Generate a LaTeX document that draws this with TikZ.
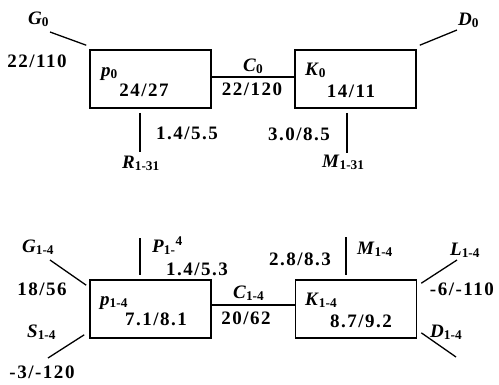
\documentclass[tikz,border=0pt]{standalone}
\usepackage{fontspec}
\setmainfont{Liberation Serif}
\newfontfamily\numfont{Liberation Serif}[LetterSpace=8]
\usepackage{tikz}
\usetikzlibrary{positioning}
\newcommand*{\sym}[2]{\textbf{\textit{#1}}\textsubscript{\textbf{#2}}}

\begin{document}
\begin{tikzpicture}[x=1pt,y=-1pt,
    block/.style = {draw, line width=1.6pt, minimum width=121pt,
                    minimum height=58pt, inner sep=0pt},
    wire/.style  = {line width=1.3pt},
    num/.style   = {anchor=base, inner sep=0pt,
                    font=\numfont\bfseries\fontsize{19}{22}\selectfont},
    lab/.style   = {anchor=base west, inner sep=0pt,
                    font=\fontsize{19}{22}\selectfont}]
    \useasboundingbox (0,0) rectangle (499,384);
    % top row
    \node[block] (p0) at (150.5,79) {};
    \node[block] (k0) at (355.5,79) {};
    \node[lab] (p0name) at (101,76) {\sym{p}{0}};
    \node[num] (p0val) at (144,96) {24/27};
    \node[lab] (k0name) at (305,75) {\sym{K}{0}};
    \node[num] (k0val) at (351,97) {14/11};
    \draw[wire] (p0.east |- 0,77) -- (k0.west |- 0,77);
    \node[lab] (c0name) at (243,71) {\sym{C}{0}};
    \node[num] (c0val) at (252,95) {22/120};
    % top inputs and outputs
    \coordinate (g0) at (50,32);
    \draw[wire] (g0) -- ([shift={(-3pt,4pt)}]p0.north west);
    \node[lab] (g0name) at (28,24) {\sym{G}{0}};
    \node[num] (g0val) at (37,67) {22/110};
    \coordinate (r0) at (140,152);
    \draw[wire] (r0 |- p0.south) ++(0,4) -- (r0);
    \node[num] (r0val) at (187,139) {1.4/5.5};
    \node[lab] (r0name) at (122,168) {\sym{R}{1-31}};
    \coordinate (d0) at (457,30);
    \draw[wire] (d0) -- ([shift={(3pt,4pt)}]k0.north east);
    \node[lab] (d0name) at (458,25) {\sym{D}{0}};
    \coordinate (m0) at (347,153);
    \draw[wire] (m0 |- k0.south) ++(0,4) -- (m0);
    \node[num] (m0val) at (299,140) {3.0/8.5};
    \node[lab] (m0name) at (322,167) {\sym{M}{1-31}};
    % bottom row
    \node[block] (p1) at (150.5,309) {};
    \node[block] (k1) at (356,309) {};
    \node[lab] (p1name) at (100,305) {\sym{p}{1-4}};
    \node[num] (p1val) at (156,325) {7.1/8.1};
    \node[lab] (k1name) at (305,305) {\sym{K}{1-4}};
    \node[num] (k1val) at (361,327) {8.7/9.2};
    \draw[wire] (p1.east |- 0,305) -- (k1.west |- 0,305);
    \node[lab] (c1name) at (233,298) {\sym{C}{1-4}};
    \node[num] (c1val) at (246,324) {20/62};
    % bottom inputs and outputs
    \coordinate (g1) at (50,260);
    \draw[wire] (g1) -- ([shift={(-3pt,-6pt)}]p1.north west);
    \node[lab] (g1name) at (22,252) {\sym{G}{1-4}};
    \node[num] (g1val) at (42,295) {18/56};
    \coordinate (s1) at (48,358);
    \draw[wire] (s1) -- ([shift={(-5pt,4pt)}]p1.south west);
    \node[lab] (s1name) at (27,337) {\sym{S}{1-4}};
    \node[num] (s1val) at (42,378) {-3/-120};
    \coordinate (pp1) at (140,238);
    \draw[wire] (pp1) -- ([yshift=4pt]pp1 |- p1.north);
    \node[lab] (pp1name) at (152,252) {\textbf{\textit{P}}\textsubscript{\textbf{1-}}\textsuperscript{\textbf{4}}};
    \node[num] (pp1val) at (197,275) {1.4/5.3};
    \coordinate (m1) at (346,237);
    \draw[wire] (m1) -- ([yshift=4pt]m1 |- k1.north);
    \node[num] (m1val) at (300,265) {2.8/8.3};
    \node[lab] (m1name) at (357,254) {\sym{M}{1-4}};
    \coordinate (l1) at (457,260);
    \draw[wire] (l1) -- ([shift={(4pt,-4pt)}]k1.north east);
    \node[lab] (l1name) at (450,255) {\sym{L}{1-4}};
    \node[num] (l1val) at (462,295) {-6/-110};
    \coordinate (d1) at (456,357);
    \draw[wire] (d1) -- ([shift={(4pt,6pt)}]k1.south east);
    \node[lab] (d1name) at (430,337) {\sym{D}{1-4}};
\end{tikzpicture}
\end{document}
